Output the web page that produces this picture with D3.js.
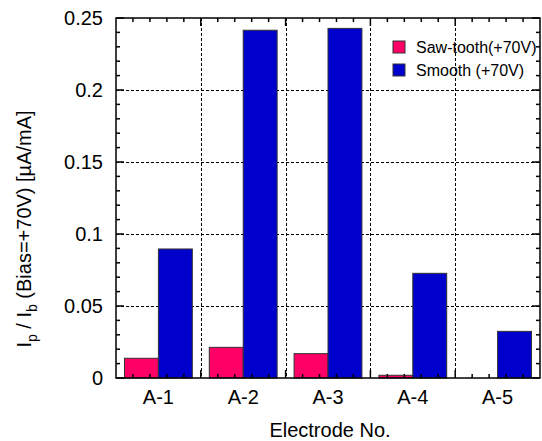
<!DOCTYPE html>
<html><head><meta charset="utf-8">
<script src="https://cdn.jsdelivr.net/npm/d3@7"></script>
<style>body{margin:0;background:#fff}svg{font-family:"Liberation Sans",Arial,sans-serif}</style>
</head><body><svg id="c" width="542" height="441"></svg>
<script>
const categories = ["A-1","A-2","A-3","A-4","A-5"];
const seriesNames = ["Saw-tooth(+70V)","Smooth (+70V)"];
const sawTooth = [0.0137, 0.0213, 0.0169, 0.0019, null];
const smooth = [0.0896, 0.2415, 0.2428, 0.0727, 0.0324];
const yTicks = [0, 0.05, 0.1, 0.15, 0.2, 0.25];
const colors = ["#ff0066", "#0000cc"];

const svg = d3.select("#c");
const L = 116, R = 540, T = 18, B = 378;
const x = d3.scaleBand().domain(categories).range([L, R]).paddingInner(0).paddingOuter(0);
const xi = d3.scaleBand().domain(seriesNames).range([0, x.bandwidth()]).paddingOuter(0.25).paddingInner(0);
const y = d3.scaleLinear().domain([0, 0.25]).range([B, T]);
const series = [sawTooth, smooth];

// grid
const grid = svg.append("g").attr("stroke", "#000").attr("stroke-width", 1).attr("stroke-dasharray", "3,2");
yTicks.filter(v => v > 0 && v < 0.25).forEach(v => {
  grid.append("line").attr("x1", L).attr("x2", R).attr("y1", Math.round(y(v)) + 0.5).attr("y2", Math.round(y(v)) + 0.5);
});
categories.slice(1).forEach(c => {
  const xx = Math.round(x(c)) + 0.5;
  grid.append("line").attr("x1", xx).attr("x2", xx).attr("y1", T).attr("y2", B);
});

// bars
series.forEach((s, si) => {
  svg.append("g").selectAll("rect").data(categories.map((c, i) => ({c, v: s[i]})).filter(d => d.v != null))
    .join("rect")
    .attr("x", d => x(d.c) + xi(seriesNames[si]))
    .attr("width", xi.bandwidth())
    .attr("y", d => y(d.v))
    .attr("height", d => B - y(d.v))
    .attr("fill", colors[si])
    .attr("stroke", "#333").attr("stroke-width", 1);
});

// axes with inside ticks
const minorY = d3.range(0, 0.2501, 0.01);
const ax = svg.append("g").attr("stroke", "#000").attr("stroke-width", 1.5);
minorY.forEach((v, i) => {
  const major = i % 5 === 0;
  const len = major ? 8 : 4;
  const yy = y(v);
  ax.append("line").attr("x1", L).attr("x2", L + len).attr("y1", yy).attr("y2", yy);
  ax.append("line").attr("x1", R).attr("x2", R - len).attr("y1", yy).attr("y2", yy);
});
categories.forEach((c, ci) => {
  for (let k = 0; k < 5; k++) {
    const xx = x(c) + k * x.bandwidth() / 5;
    const len = k === 0 ? 8 : 4;
    if (ci === 0 && k === 0) continue;
    ax.append("line").attr("x1", xx).attr("x2", xx).attr("y1", B).attr("y2", B - len);
    ax.append("line").attr("x1", xx).attr("x2", xx).attr("y1", T).attr("y2", T + len);
  }
});
svg.append("rect").attr("x", L).attr("y", T).attr("width", R - L).attr("height", B - T)
  .attr("fill", "none").attr("stroke", "#000").attr("stroke-width", 1.5);

// tick labels
svg.append("g").selectAll("text").data(yTicks).join("text")
  .attr("x", 103).attr("y", d => y(d) + 7).attr("text-anchor", "end")
  .attr("font-size", 20).text(d => d === 0 ? "0" : String(d));
svg.append("g").selectAll("text").data(categories).join("text")
  .attr("x", d => x(d) + x.bandwidth() / 2).attr("y", 404).attr("text-anchor", "middle")
  .attr("font-size", 20).text(d => d);

// axis titles
svg.append("text").attr("x", (L + R) / 2 + 2).attr("y", 437).attr("text-anchor", "middle")
  .attr("font-size", 20).text("Electrode No.");
const yt = svg.append("text").attr("transform", "translate(31,229) rotate(-90)")
  .attr("text-anchor", "middle").attr("font-size", 20);
yt.append("tspan").text("I");
yt.append("tspan").attr("font-size", 14).attr("dy", 6).text("p");
yt.append("tspan").attr("dy", -6).text(" / I");
yt.append("tspan").attr("font-size", 14).attr("dy", 6).text("b");
yt.append("tspan").attr("dy", -6).text(" (Bias=+70V) [\u00b5A/mA]");

// legend
seriesNames.forEach((n, i) => {
  const ly = 47 + i * 23;
  svg.append("rect").attr("x", 393).attr("y", ly - 6).attr("width", 12).attr("height", 12)
    .attr("fill", colors[i]).attr("stroke", "#333").attr("stroke-width", 1);
  svg.append("text").attr("x", 416).attr("y", ly + 6).attr("font-size", 16).text(n);
});
</script></body></html>
